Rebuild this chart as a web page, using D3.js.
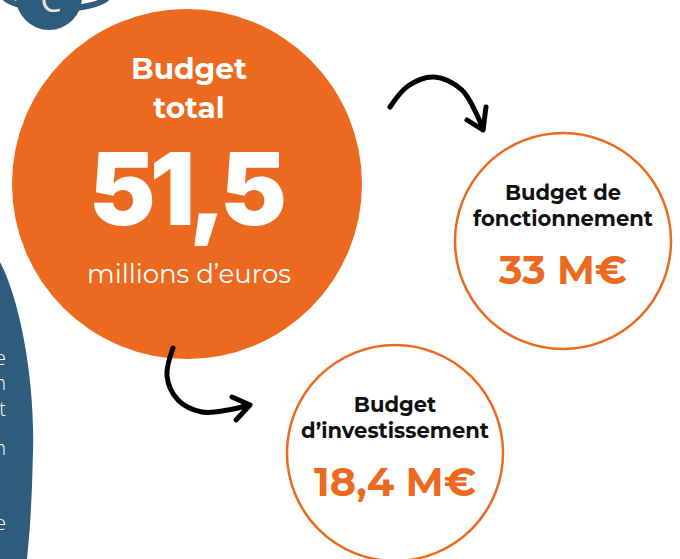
<!DOCTYPE html>
<html>
<head>
<meta charset="utf-8">
<script src="https://cdn.jsdelivr.net/npm/d3@7"></script>
<style>
  html, body { margin: 0; padding: 0; background: #fff; }
  svg { display: block; }
</style>
</head>
<body>
<div id="graph-container"></div>
<script>
// Data
var budgetNames = [["Budget", "total"], ["Budget de", "fonctionnement"], ["Budget", "d\u2019investissement"]];
var budgetValues = [51.5, 33, 18.4];
var budgetUnits = ["millions d\u2019euros", "M\u20ac", "M\u20ac"];
var sideLetters = ["e", "n", "t", "n", "e"];

// Colors
var orange = "#EB6A20";
var blue = "#2E5C7C";
var cream = "#E9E3D6";

var svgWidth = 680;
var svgHeight = 559;

var svg = d3.select("#graph-container")
  .append("svg")
  .attr("width", svgWidth)
  .attr("height", svgHeight);

// French number format (51,5)
var fr = d3.formatLocale({ decimal: ",", thousands: "\u202f", grouping: [3], currency: ["", " \u20ac"] });
var fmt = fr.format("~g");

// Layout of the three circles (total, fonctionnement, investissement)
var cx = d3.scaleOrdinal().domain([0, 1, 2]).range([187, 563, 395]);
var cy = d3.scaleOrdinal().domain([0, 1, 2]).range([184, 241, 453]);
var rad = d3.scaleOrdinal().domain([0, 1, 2]).range([175, 108, 108]);

// fit a text element to a target width by changing its font size
function fit(sel, w) {
  sel.each(function () {
    var node = this;
    var fs = parseFloat(d3.select(node).style("font-size"));
    var len = node.getComputedTextLength();
    if (len > 0) d3.select(node).style("font-size", (fs * w / len) + "px");
  });
}

// fit a text element to a target width by changing its letter spacing
function fitSpacing(sel, w) {
  sel.each(function () {
    var node = this;
    var len = node.getComputedTextLength();
    var n = node.textContent.length;
    d3.select(node).style("letter-spacing", ((w - len) / n) + "px");
  });
}

// --- decorative blue shapes ---
var deco = svg.append("g");
deco.append("path")
  .attr("d", "M0,262 C20,300 35,380 33,450 C32,500 30,530 27,559 L0,559 Z")
  .attr("fill", blue);

var sideY = [365, 390, 416, 455, 530];
deco.selectAll(".side")
  .data(sideLetters)
  .enter()
  .append("text")
  .attr("class", "side")
  .attr("x", 6)
  .attr("y", function (d, i) { return sideY[i]; })
  .attr("text-anchor", "end")
  .style("font-family", "Open Sans, sans-serif")
  .style("font-weight", 300)
  .style("font-size", "20px")
  .attr("fill", "#fff")
  .text(function (d) { return d; });

deco.append("ellipse")
  .attr("cx", 56).attr("cy", -6)
  .attr("rx", 53).attr("ry", 15)
  .attr("fill", "none")
  .attr("stroke", blue)
  .attr("stroke-width", 6);
deco.append("circle")
  .attr("cx", 49).attr("cy", -3).attr("r", 33)
  .attr("fill", blue);
deco.append("text")
  .attr("x", 51).attr("y", 12)
  .attr("text-anchor", "middle")
  .style("font-family", "Open Sans, sans-serif")
  .style("font-weight", 400)
  .style("font-size", "34px")
  .attr("fill", cream)
  .text("C");

// --- circles ---
var circles = svg.selectAll(".budget")
  .data(budgetValues)
  .enter()
  .append("g")
  .attr("class", "budget")
  .attr("transform", function (d, i) { return "translate(" + cx(i) + "," + cy(i) + ")"; });

circles.append("circle")
  .attr("r", function (d, i) { return rad(i); })
  .attr("fill", function (d, i) { return i === 0 ? orange : "#fff"; })
  .attr("stroke", function (d, i) { return i === 0 ? "none" : orange; })
  .attr("stroke-width", 2.5);

// Big circle texts
var big = d3.select(circles.nodes()[0]);
var bigFont = "Montserrat, DejaVu Sans, sans-serif";
big.selectAll(".name")
  .data(budgetNames[0])
  .enter()
  .append("text")
  .attr("class", "name")
  .attr("x", 2)
  .attr("y", function (d, i) { return -105 + i * 39; })
  .attr("text-anchor", "middle")
  .style("font-family", bigFont)
  .style("font-weight", 700)
  .style("font-size", "27px")
  .attr("fill", "#fff")
  .text(function (d) { return d; })
  .call(function (s) { fit(s.filter(function (d, i) { return i === 0; }), 116); });
big.selectAll(".name").filter(function (d, i) { return i === 1; })
  .style("font-size", big.select(".name").style("font-size"));

big.append("text")
  .attr("x", -2)
  .attr("y", 41)
  .attr("text-anchor", "middle")
  .style("font-family", "Inter, DejaVu Sans, sans-serif")
  .style("font-weight", 900)
  .style("font-size", "100px")
  .attr("fill", "#fff")
  .text(fmt(budgetValues[0]))
  .call(fitSpacing, 192);

big.append("text")
  .attr("x", 2)
  .attr("y", 99)
  .attr("text-anchor", "middle")
  .style("font-family", bigFont)
  .style("font-weight", 400)
  .style("font-size", "23px")
  .attr("fill", "#fff")
  .text(budgetUnits[0])
  .call(fit, 204);

// Small circle texts
var nameWidths = [[117, 180], [81, 188]];
var valueWidths = [128, 162];
[1, 2].forEach(function (k) {
  var g = d3.select(circles.nodes()[k]);
  g.selectAll(".name")
    .data(budgetNames[k])
    .enter()
    .append("text")
    .attr("class", "name")
    .attr("y", function (d, i) { return -41 + i * 26; })
    .attr("text-anchor", "middle")
    .style("font-family", bigFont)
    .style("font-weight", 700)
    .style("font-size", "18px")
    .attr("fill", "#111")
    .text(function (d) { return d; });
  var longest = g.selectAll(".name").filter(function (d, i) { return i === 1; });
  fit(longest, nameWidths[k - 1][1]);
  g.selectAll(".name").style("font-size", longest.style("font-size"));

  g.append("text")
    .attr("y", 43)
    .attr("text-anchor", "middle")
    .style("font-family", bigFont)
    .style("font-weight", 700)
    .style("font-size", "38px")
    .attr("fill", orange)
    .text(fmt(budgetValues[k]) + " " + budgetUnits[k])
    .call(fit, valueWidths[k - 1]);
});

// --- arrows ---
var line = d3.line().curve(d3.curveCatmullRom.alpha(0.5));
var arrows = [
  { body: [[390, 107], [408, 86], [434, 77], [462, 90], [483, 129]],
    head: [[467, 120], [483, 130], [486, 107]] },
  { body: [[173, 348], [167, 376], [178, 400], [202, 412], [228, 410], [249, 405]],
    head: [[232, 397], [250, 405], [236, 420]] }
];
var ag = svg.append("g")
  .attr("fill", "none")
  .attr("stroke", "#000")
  .attr("stroke-width", 5)
  .attr("stroke-linecap", "round")
  .attr("stroke-linejoin", "round");
arrows.forEach(function (a) {
  ag.append("path").attr("d", line(a.body));
  ag.append("path").attr("d", d3.line()(a.head));
});
</script>
</body>
</html>
